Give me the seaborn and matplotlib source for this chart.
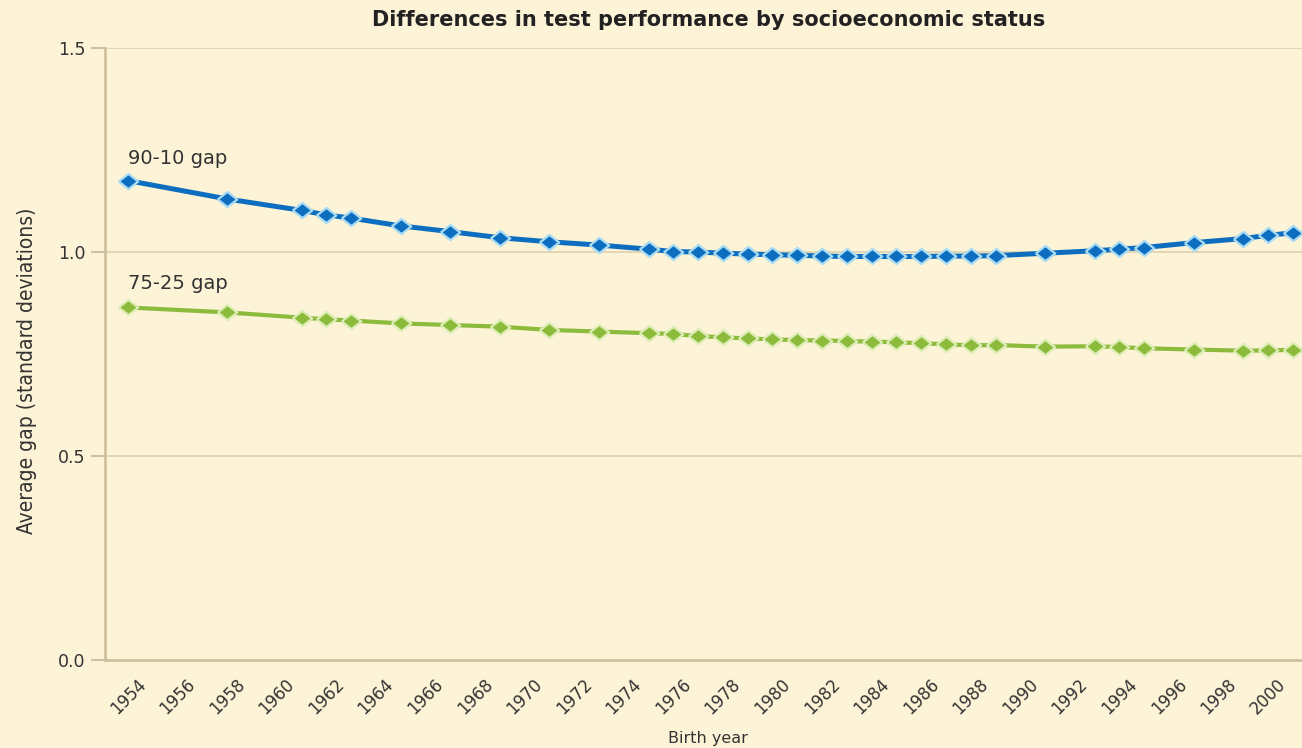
import matplotlib
matplotlib.use("Agg")
import matplotlib.pyplot as plt
import seaborn as sns
import pandas as pd

# Birth-year cohorts and average SES achievement gaps (in standard deviations)
years = [1954, 1958, 1961, 1962, 1963, 1965, 1967, 1969, 1971, 1973, 1975,
         1976, 1977, 1978, 1979, 1980, 1981, 1982, 1983, 1984, 1985, 1986,
         1987, 1988, 1989, 1991, 1993, 1994, 1995, 1997, 1999, 2000, 2001]
gap_90_10 = [1.175, 1.130, 1.102, 1.091, 1.083, 1.064, 1.050, 1.035, 1.025,
             1.017, 1.007, 1.001, 1.000, 0.997, 0.995, 0.993, 0.992, 0.990,
             0.989, 0.989, 0.989, 0.989, 0.990, 0.990, 0.991, 0.997, 1.003,
             1.007, 1.011, 1.023, 1.033, 1.041, 1.047]
gap_75_25 = [0.864, 0.852, 0.839, 0.835, 0.832, 0.825, 0.821, 0.817, 0.809,
             0.805, 0.801, 0.799, 0.794, 0.791, 0.788, 0.786, 0.784, 0.783,
             0.782, 0.780, 0.779, 0.776, 0.774, 0.771, 0.772, 0.768, 0.769,
             0.767, 0.764, 0.761, 0.758, 0.759, 0.760]
series_labels = ["90-10 gap", "75-25 gap"]
x_ticks = list(range(1954, 2001, 2))
y_ticks = [0.0, 0.5, 1.0, 1.5]

BG = "#FDF3D6"
TAN = "#CFC1A0"
GRID = "#E3D6B6"
TEXT = "#333333"
BLUE = "#0D6EBF"
BLUE_EDGE = "#A9DCF3"
GREEN = "#8CBA3B"
GREEN_EDGE = "#DCEDB6"

sns.set_theme(style="white")
plt.rcParams["font.family"] = ["DejaVu Sans"]

df = pd.DataFrame({"year": years, "g9010": gap_90_10, "g7525": gap_75_25})

fig = plt.figure(figsize=(13.02, 7.48), dpi=100, facecolor=BG)
ax = fig.add_axes([105 / 1302, 88 / 748, (1302 - 105) / 1302, (660 - 48) / 748])
ax.set_facecolor(BG)

# wide, slightly flattened diamond marker
diamond = [(-1.0, 0.0), (0.0, -0.78), (1.0, 0.0), (0.0, 0.78), (-1.0, 0.0)]

sns.lineplot(data=df, x="year", y="g9010", ax=ax, color=BLUE, linewidth=3.6,
             marker=diamond, markersize=14, markeredgecolor=BLUE_EDGE,
             markeredgewidth=1.6, markerfacecolor=BLUE, zorder=4)
sns.lineplot(data=df, x="year", y="g7525", ax=ax, color=GREEN, linewidth=3.0,
             marker=diamond, markersize=14, markeredgecolor=GREEN_EDGE,
             markeredgewidth=1.6, markerfacecolor=GREEN, zorder=4)

px_per_year = (1293 - 128) / (2001 - 1954)
ax.set_xlim(1954 - 23 / px_per_year, 1954 + (1302 - 128) / px_per_year)
ax.set_ylim(0, 1.5)

ax.set_yticks(y_ticks)
ax.set_yticklabels([f"{v:.1f}" for v in y_ticks], fontsize=12.5, color=TEXT)
ax.set_xticks(x_ticks)
ax.set_xticklabels([str(y) for y in x_ticks], fontsize=12, color=TEXT,
                   rotation=45, ha="center", va="top")
ax.tick_params(axis="y", direction="out", length=10, width=1.5, color=TAN, pad=4, left=True)
ax.tick_params(axis="x", length=0, pad=11)

for v in y_ticks[1:]:
    ax.axhline(v, color=GRID, linewidth=1.4, zorder=1)

for side in ["top", "right"]:
    ax.spines[side].set_visible(False)
for side in ["left", "bottom"]:
    ax.spines[side].set_color(TAN)
    ax.spines[side].set_linewidth(2)

ax.set_xlabel("")
ax.set_ylabel("")

ax.text(1954, 1.230, series_labels[0], fontsize=14, color=TEXT, ha="left", va="center")
ax.text(1954, 0.922, series_labels[1], fontsize=14, color=TEXT, ha="left", va="center")

fig.text(709 / 1302, 1 - 20 / 748, "Differences in test performance by socioeconomic status",
         fontsize=15, fontweight="bold", color="#222222", ha="center", va="center")
fig.text(708 / 1302, 1 - 738 / 748, "Birth year", fontsize=11.5, fontweight="medium",
         color=TEXT, ha="center", va="center")
fig.text(27 / 1302, 1 - 371 / 748, "Average gap (standard deviations)", fontsize=15,
         fontstretch="condensed", color=TEXT, rotation=90, ha="center", va="center")

fig.savefig("out.png", dpi=100, facecolor=BG)
